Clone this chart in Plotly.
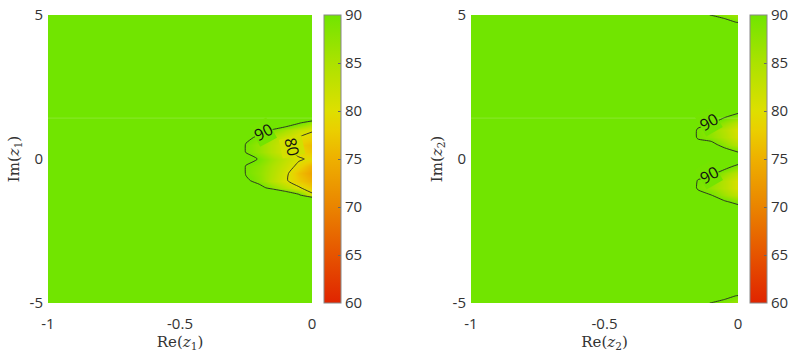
import plotly.graph_objects as go

# ---------------- data ----------------
re_nodes = [-1, -0.3, -0.25, -0.2, -0.15, -0.1, -0.05, 0]

# left panel: Im(z1) nodes and values (rows follow im1_nodes, columns follow re_nodes)
im1_nodes = [-5, -2, -1.5, -1.25, -1, -0.75, -0.5, -0.25, 0, 0.25, 0.5, 0.75, 1, 1.25, 1.5, 2, 5]
val1 = [
    [100, 100, 100, 100, 100, 100, 100, 100],   # -5
    [100, 100, 100, 100, 100, 100, 100, 100],   # -2
    [100, 100, 100, 100, 100, 100, 105, 110],   # -1.5
    [100, 100, 100, 100, 100, 96, 91, 81],      # -1.25
    [100, 100, 100, 92, 88, 84, 80.5, 77.5],    # -1
    [100, 100, 91, 88, 84, 80.5, 77.5, 75],     # -0.75
    [100, 100, 89.5, 87.5, 84.5, 81, 76.5, 73.5],  # -0.5
    [100, 100, 89.5, 88, 85, 82, 79, 75],       # -0.25
    [100, 100, 93, 89.5, 86, 83, 80.5, 79.3],   # 0
    [100, 100, 89.5, 87, 84, 81, 78.8, 77],     # 0.25
    [100, 100, 89.5, 87, 84, 81, 78, 76],       # 0.5
    [100, 100, 92, 88.5, 85, 82, 79.8, 78.5],   # 0.75
    [100, 100, 100, 93, 89, 85.5, 82.5, 80.5],  # 1
    [100, 100, 100, 100, 100, 95, 90.5, 86],    # 1.25
    [100, 100, 100, 100, 100, 100, 100, 100],   # 1.5
    [100, 100, 100, 100, 100, 100, 100, 100],   # 2
    [100, 100, 100, 100, 100, 100, 100, 100],   # 5
]

# right panel: Im(z2) nodes and values
im2_nodes = [-5, -4.75, -4.5, -2, -1.75, -1.5, -1.25, -1, -0.75, -0.5, -0.25, 0,
             0.25, 0.5, 0.75, 1, 1.25, 1.5, 1.75, 2, 4.5, 4.75, 5]
val2 = [
    [100, 100, 100, 100, 91.5, 89.8, 88, 86],    # -5
    [100, 100, 100, 100, 100, 95, 92, 89.6],     # -4.75
    [100, 100, 100, 100, 100, 100, 100, 100],    # -4.5
    [100, 100, 100, 100, 100, 100, 100, 100],    # -2
    [100, 100, 100, 100, 100, 100, 100, 93],     # -1.75
    [100, 100, 100, 100, 100, 96, 91, 88.5],     # -1.5
    [100, 100, 100, 100, 91.5, 90, 86, 83],      # -1.25
    [100, 100, 100, 95, 89.4, 87, 84, 80.5],     # -1
    [100, 100, 100, 95, 89.7, 87.5, 84, 80.5],   # -0.75
    [100, 100, 100, 100, 92, 91.5, 87, 83.5],    # -0.5
    [100, 100, 100, 100, 100, 100, 92.5, 88.5],  # -0.25
    [100, 100, 100, 100, 100, 100, 98, 95],      # 0
    [100, 100, 100, 100, 100, 100, 93, 89.8],    # 0.25
    [100, 100, 100, 100, 92, 92, 87.5, 84],      # 0.5
    [100, 100, 100, 95, 89.4, 87.5, 84.5, 81],   # 0.75
    [100, 100, 100, 95, 89.4, 87, 84, 80.5],     # 1
    [100, 100, 100, 100, 91.5, 90.5, 87, 83.5],  # 1.25
    [100, 100, 100, 100, 100, 96, 91, 88.5],     # 1.5
    [100, 100, 100, 100, 100, 100, 100, 93],     # 1.75
    [100, 100, 100, 100, 100, 100, 100, 100],    # 2
    [100, 100, 100, 100, 100, 100, 100, 100],    # 4.5
    [100, 100, 100, 100, 100, 95, 92, 89.6],     # 4.75
    [100, 100, 100, 100, 91.5, 89.8, 88, 86],    # 5
]

x_ticks = [-1, -0.5, 0]
x_tick_text = ["-1", "-0.5", "0"]
y_ticks = [-5, 0, 5]
y_tick_text = ["-5", "0", "5"]
cbar_ticks = [60, 65, 70, 75, 80, 85, 90]
contour_start, contour_end, contour_step = 80, 90, 10

# contour labels: (panel, Re, Im, text, angle, local background)
contour_labels = [
    (0, -0.185, 0.95, "90", -28, "#74E400"),
    (0, -0.075, 0.42, "80", 78, "#D2E000"),
    (1, -0.11, 1.27, "90", -30, "#74E400"),
    (1, -0.11, -0.55, "90", -30, "#74E400"),
]

# ---------------- styling ----------------
W, H = 791, 352
colorscale = [
    [0.0, "#E02400"],
    [0.167, "#E65400"],
    [0.333, "#EA8400"],
    [0.5, "#EEB000"],
    [0.6, "#EACF00"],
    [0.667, "#DEDF00"],
    [0.833, "#ACE200"],
    [1.0, "#71E500"],
]
tick_font = dict(family="Open Sans, Noto Sans, sans-serif", size=15, color="#333333")
title_font = dict(family="DejaVu Serif, Liberation Serif, serif", size=15, color="#333333")

ytop = 1 - 15 / H
ybot = 1 - 303 / H

panels = [
    dict(x0=48, x1=312, cb=324, z=val1, y=im1_nodes, sub="1"),
    dict(x0=471, x1=738, cb=750, z=val2, y=im2_nodes, sub="2"),
]

fig = go.Figure()
for i, p in enumerate(panels):
    xa = "x" if i == 0 else "x2"
    ya = "y" if i == 0 else "y2"
    fig.add_trace(go.Heatmap(
        x=re_nodes, y=p["y"], z=p["z"],
        xaxis=xa, yaxis=ya, zsmooth="best",
        colorscale=colorscale, zmin=60, zmax=90, zauto=False,
        colorbar=dict(
            x=p["cb"] / W, xanchor="left", xpad=0, ypad=0,
            y=ytop, yanchor="top", len=(ytop - ybot), lenmode="fraction",
            thickness=17, thicknessmode="pixels",
            outlinecolor="#888888", outlinewidth=1,
            tickvals=cbar_ticks, ticks="inside", ticklen=3, tickcolor="#666666",
            tickfont=tick_font,
        ),
        hoverinfo="skip",
    ))
    fig.add_trace(go.Contour(
        x=re_nodes, y=p["y"], z=p["z"],
        xaxis=xa, yaxis=ya, showscale=False,
        contours=dict(coloring="none", start=contour_start, end=contour_end,
                      size=contour_step, showlabels=False),
        line=dict(color="#262626", width=0.9, smoothing=0.6),
        hoverinfo="skip",
    ))

annotations = []
for (pi, xv, yv, txt, ang, bg) in contour_labels:
    sfx = "" if pi == 0 else "2"
    annotations.append(dict(
        x=xv, y=yv, xref="x" + sfx, yref="y" + sfx, text=txt, showarrow=False,
        textangle=ang, bgcolor=bg, borderpad=0,
        font=dict(family="Open Sans, sans-serif", size=16, color="#111111"),
    ))

# faint horizontal seam visible in the reference rendering
shapes = []
for i in range(2):
    sfx = "" if i == 0 else "2"
    shapes.append(dict(type="line", xref="x" + sfx + " domain", yref="y" + sfx,
                       x0=0, x1=1, y0=1.42, y1=1.42,
                       line=dict(color="rgba(255,255,255,0.18)", width=1)))

layout = dict(
    width=W, height=H,
    margin=dict(l=0, r=0, t=0, b=0, autoexpand=False),
    paper_bgcolor="white", plot_bgcolor="white",
    showlegend=False, annotations=annotations, shapes=shapes,
)
for i, p in enumerate(panels):
    sfx = "" if i == 0 else "2"
    layout["xaxis" + sfx] = dict(
        domain=[p["x0"] / W, p["x1"] / W], range=[-1, 0],
        tickvals=x_ticks, ticktext=x_tick_text, tickfont=tick_font,
        showgrid=False, zeroline=False, showline=False, ticks="",
        ticklabelstandoff=10,
        title=dict(text="Re(<i>z</i><sub>" + p["sub"] + "</sub>)", font=title_font, standoff=2),
        anchor="y" + sfx, automargin=False,
    )
    layout["yaxis" + sfx] = dict(
        domain=[ybot, ytop], range=[-5, 5],
        tickvals=y_ticks, ticktext=y_tick_text, tickfont=tick_font,
        showgrid=False, zeroline=False, showline=False, ticks="",
        ticklabelstandoff=4,
        title=dict(text="Im(<i>z</i><sub>" + p["sub"] + "</sub>)", font=title_font, standoff=6),
        anchor="x" + sfx, automargin=False,
    )
fig.update_layout(**layout)
fig.write_html("out.html")
